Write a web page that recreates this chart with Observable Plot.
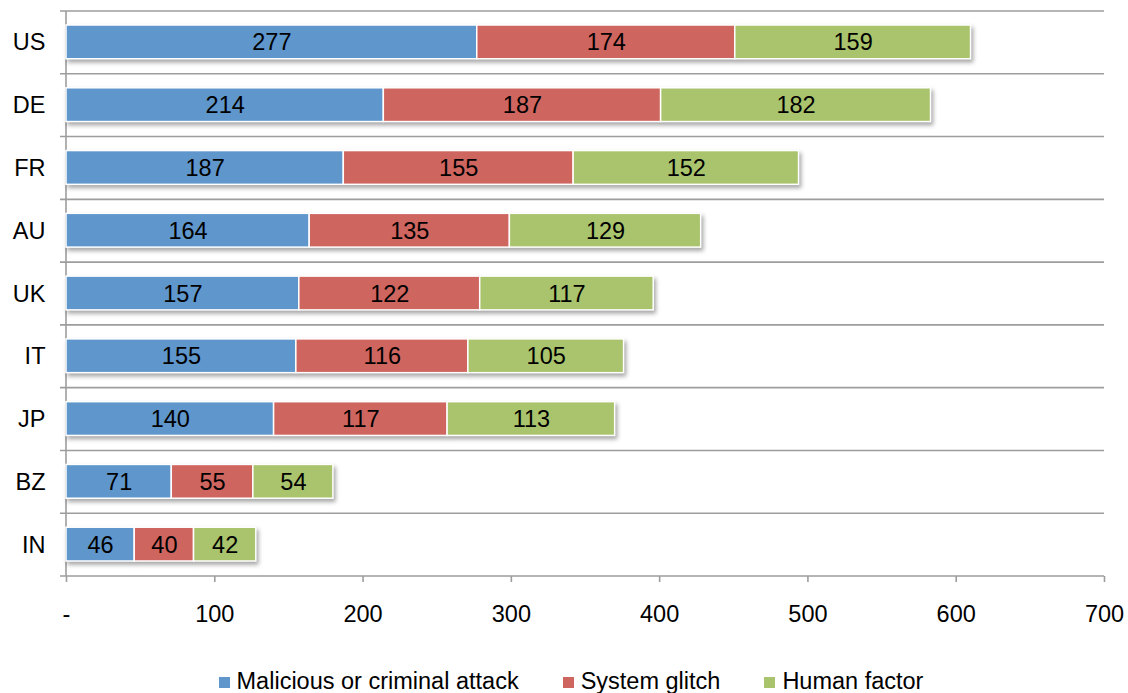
<!DOCTYPE html>
<html>
<head>
<meta charset="utf-8">
<script src="https://cdn.jsdelivr.net/npm/d3@7"></script>
<script src="https://cdn.jsdelivr.net/npm/@observablehq/plot@0.6"></script>
<style>
  body { margin: 0; background: #fff; font-family: "Liberation Sans", Arial, sans-serif; }
  #chart svg g[aria-label="bar"] { filter: drop-shadow(2px 3px 2px rgba(0,0,0,0.35)); }
  .legend { display: flex; justify-content: center; gap: 44px; margin-top: 17px; font-size: 23.5px; line-height: 28px; color: #000; padding-left: 14px; }
  .legend .item { display: flex; align-items: center; gap: 7px; }
  .legend .sw { display: inline-block; width: 11px; height: 11px; margin-top: 2px; }
</style>
</head>
<body>
<div id="chart"></div>
<script>
const countries = ["US", "DE", "FR", "AU", "UK", "IT", "JP", "BZ", "IN"];
const causes = ["Malicious or criminal attack", "System glitch", "Human factor"];
const malicious = [277, 214, 187, 164, 157, 155, 140, 71, 46];
const glitch = [174, 187, 155, 135, 122, 116, 117, 55, 40];
const human = [159, 182, 152, 129, 117, 105, 113, 54, 42];
const xTicks = [0, 100, 200, 300, 400, 500, 600, 700];
const colors = ["#5f96cc", "#cf655f", "#a9c46c"];

const series = [malicious, glitch, human];
const data = [];
countries.forEach((c, i) => {
  causes.forEach((cause, j) => data.push({country: c, cause, value: series[j][i]}));
});

const gridColor = "#9d9d9d";
const FS = 23.5;

function separators(index, scales, values, dimensions) {
  const {x, y} = scales;
  const g = d3.create("svg:g").attr("stroke", gridColor).attr("stroke-width", 1.6);
  const n = countries.length;
  const bw = typeof y.bandwidth === "function" ? y.bandwidth()
    : (dimensions.height - dimensions.marginTop - dimensions.marginBottom) / n;
  const bounds = countries.map(c => y(c));
  bounds.push(y(countries[n - 1]) + bw);
  const x0 = x(0), x1 = x(700);
  for (const b of bounds) {
    g.append("line").attr("x1", x0 - 6).attr("x2", x1).attr("y1", b).attr("y2", b);
  }
  g.append("line").attr("x1", x0).attr("x2", x0).attr("y1", bounds[0]).attr("y2", bounds[n]);
  return g.node();
}

const chart = Plot.plot({
  width: 1128,
  height: 650,
  marginTop: 11,
  marginBottom: 74,
  marginLeft: 66,
  marginRight: 24,
  style: {fontFamily: "Liberation Sans, Arial, sans-serif", fontSize: FS + "px", color: "#000", background: "#fff"},
  x: {domain: [0, 700]},
  y: {domain: countries, padding: 0, round: false},
  color: {domain: causes, range: colors},
  marks: [
    separators,
    Plot.barX(data, Plot.stackX({
      y: "country", x: "value", fill: "cause",
      insetTop: 14, insetBottom: 15,
      stroke: "white", strokeWidth: 1.5
    })),
    Plot.text(data, Plot.stackX({
      y: "country", x: "value", z: "cause", text: "value", fill: "#000", fontSize: FS
    })),
    Plot.axisX({
      ticks: xTicks, tickSize: 6, tickPadding: 23, stroke: gridColor, strokeWidth: 1.6,
      tickFormat: d => d === 0 ? "-" : String(d), label: null, fontSize: FS, fill: "#000"
    }),
    Plot.axisY({tickSize: 0, tickPadding: 21, label: null, fontSize: FS, fill: "#000"})
  ]
});

document.getElementById("chart").appendChild(chart);

const legend = d3.select("body").append("div").attr("class", "legend");
causes.forEach((c, i) => {
  const item = legend.append("div").attr("class", "item");
  item.append("span").attr("class", "sw").style("background", colors[i]);
  item.append("span").text(c);
});
</script>
</body>
</html>
